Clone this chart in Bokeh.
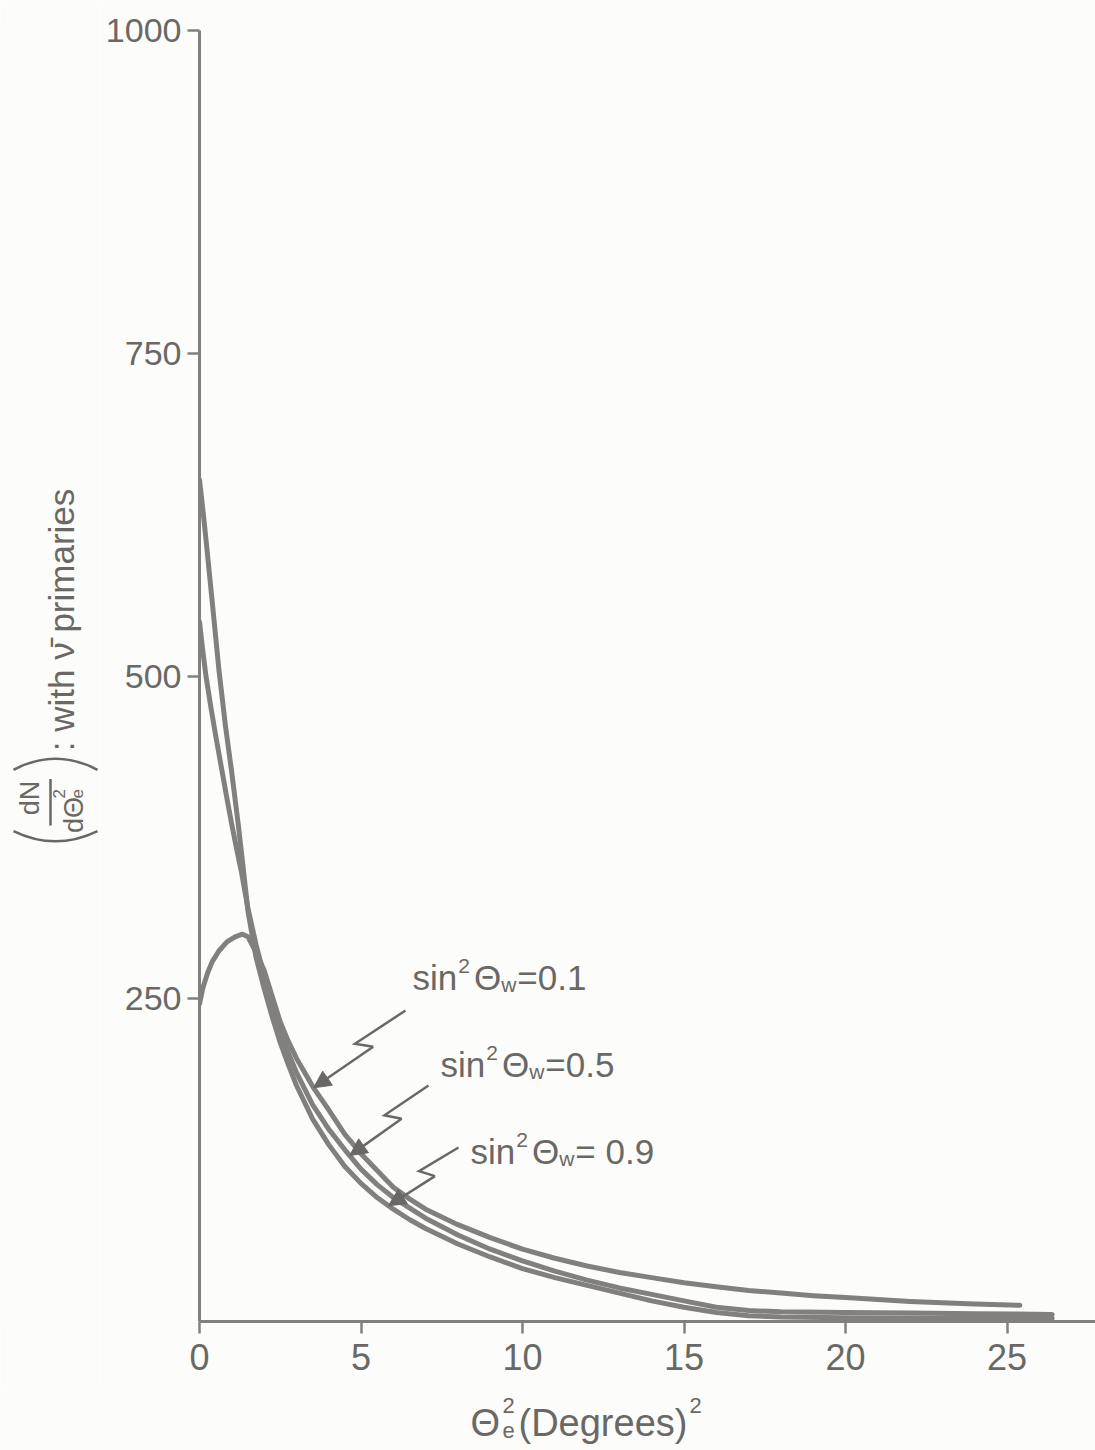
import numpy as np
from bokeh.plotting import figure
from bokeh.layouts import row, column
from bokeh.models import Range1d, FixedTicker, Label, Arrow, NormalHead
from bokeh.embed import file_html
from bokeh.resources import INLINE

# dN/dθe² for ν̄ primaries, one curve per value of sin²θW
theta2_w09 = [0, 0.1, 0.2, 0.4, 0.6, 0.8, 1.0, 1.2, 1.35, 1.5, 1.75, 2.0, 2.25, 2.5, 2.75,
              3.0, 3.5, 4.0, 4.5, 5.0, 5.5, 6.0, 6.5, 7.0, 8.0, 9.0, 10.0, 11.0, 12.0,
              13.0, 14.0, 15.0, 16.0, 17.0, 18.0, 20.0, 22.0, 24.0, 26.4]
dn_w09 = [652, 630, 606, 556, 505, 462, 425, 385, 352, 318, 282, 258, 236, 216, 199,
          183, 157, 137, 120, 107, 96, 87, 79, 72, 60, 50, 41, 34, 28,
          22, 16, 11, 7, 4.5, 3.5, 3, 2.8, 2.6, 2.5]

theta2_w05 = [0, 0.1, 0.2, 0.35, 0.5, 0.7, 0.85, 1.0, 1.15, 1.3, 1.5, 1.75, 2.0, 2.25, 2.5,
              2.75, 3.0, 3.5, 4.0, 4.5, 5.0, 5.5, 6.0, 6.5, 7.0, 8.0, 9.0, 10.0, 11.0,
              12.0, 13.0, 14.0, 15.0, 16.0, 17.0, 18.0, 20.0, 22.0, 24.0, 26.4]
dn_w05 = [542, 520, 500, 476, 454, 426, 405, 385, 366, 348, 320, 292, 268, 246, 226,
          208, 193, 168, 149, 133, 118, 106, 96, 88, 80, 67, 56, 47, 39,
          32, 26, 21, 16, 11, 8.5, 7.5, 7, 6.5, 6, 5.5]

theta2_w01 = [0, 0.1, 0.25, 0.4, 0.6, 0.85, 1.1, 1.33, 1.5, 1.75, 2.0, 2.25, 2.5, 2.75,
              3.0, 3.53, 4.0, 4.5, 5.0, 5.5, 6.0, 6.5, 7.0, 8.0, 9.0, 10.0, 11.0, 12.0,
              13.0, 14.0, 15.0, 16.0, 17.0, 18.0, 19.0, 20.0, 21.0, 22.0, 23.0, 24.0, 25.4]
dn_w01 = [246, 258, 270, 279, 287, 294, 298, 300, 298, 286, 272, 252, 232, 217,
          204, 181, 164, 145, 130, 117, 104, 95, 87, 75, 65, 56, 49, 43,
          38, 34, 30, 27, 24, 22, 20, 18.5, 17, 15.5, 14.5, 13.5, 12.5]

x_ticks = [0, 5, 10, 15, 20, 25]
y_ticks = [250, 500, 750, 1000]
curve_tags = ["0.1", "0.5", "0.9"]

PAPER = "#fcfcfa"
INK = "#82807c"
TEXT = "#6a6865"
FONT = "Liberation Sans"

W, H = 1095, 1450
LEFT_W = 100              # strip that carries the rotated y title
BOTTOM_H = 60             # strip that carries the x title
TOP_H = H - BOTTOM_H
X0_PX, Y0_PX = 199, 1321  # page position of the origin
TOP_PX = 30
X_MAX = (W - X0_PX) / 32.3
Y_MAX = 1000
LABEL_LIFT = 12           # Label anchors sit a little below the glyph baseline

SX = (W - X0_PX) / X_MAX
SY = (Y0_PX - TOP_PX) / Y_MAX


def dx(px):
    return (px - X0_PX) / SX


def dy(py):
    return (Y0_PX - py) / SY


ADV = {'s': .5, 'i': .222, 'n': .556, '.': .278, '=': .584, ' ': .278, 'Θ': .778,
       'w': .722, 'e': .556, '(': .333, ')': .333, 'D': .722, 'g': .556, 'r': .333,
       'd': .556, 'N': .722}
for ch in "0123456789":
    ADV[ch] = .556


def text_width(t, size):
    return sum(ADV.get(c, .556) for c in t) * size


def strip(width, height):
    f = figure(width=width, height=height,
               x_range=Range1d(0, width), y_range=Range1d(0, height),
               output_backend="svg", toolbar_location=None,
               x_axis_location=None, y_axis_location=None,
               min_border=0, background_fill_color=PAPER, border_fill_color=PAPER,
               outline_line_color=None)
    f.grid.visible = False
    return f


p = figure(width=W - LEFT_W, height=TOP_H,
           x_range=Range1d(0, X_MAX), y_range=Range1d(0, Y_MAX),
           output_backend="svg", toolbar_location=None,
           min_border_left=X0_PX - LEFT_W, min_border_right=0,
           min_border_top=TOP_PX, min_border_bottom=TOP_H - Y0_PX,
           background_fill_color=PAPER, border_fill_color=PAPER,
           outline_line_color=None)
p.grid.visible = False

p.xaxis.ticker = FixedTicker(ticks=x_ticks)
p.yaxis.ticker = FixedTicker(ticks=y_ticks)
for ax in (p.xaxis[0], p.yaxis[0]):
    ax.axis_line_color = INK
    ax.axis_line_width = 3
    ax.major_tick_line_color = INK
    ax.major_tick_line_width = 2.5
    ax.major_tick_out = 12
    ax.major_tick_in = 0
    ax.minor_tick_line_color = None
    ax.major_label_text_font = FONT
    ax.major_label_text_color = TEXT
p.xaxis.major_label_text_font_size = "36px"
p.yaxis.major_label_text_font_size = "34px"
p.xaxis.major_label_standoff = 10
p.yaxis.major_label_standoff = 6

series = {"0.1": (theta2_w01, dn_w01),
          "0.5": (theta2_w05, dn_w05),
          "0.9": (theta2_w09, dn_w09)}
for tag in curve_tags:
    xs, ys = series[tag]
    p.line(xs, ys, line_color=INK, line_width=5, line_join="round", line_cap="round")


def compose(plot, x_px, base_py, pieces, fx=dx, fy=dy, color=TEXT):
    """Lay out a run of text pieces: (text, size, rise, gap_after)."""
    cur = x_px
    for t, size, rise, gap in pieces:
        plot.add_layout(Label(x=fx(cur), y=fy(base_py - rise - LABEL_LIFT), text=t,
                              text_font=FONT, text_font_size=f"{size}px",
                              text_color=color, text_align="left",
                              text_baseline="alphabetic"))
        cur += text_width(t, size) + gap


# curve annotations with lightning-style pointers
notes = [
    # tag, label x, baseline, pointer start (px), pointer target x (data), value text
    ("0.1", 412, 989, (405, 1010), 3.53, "=0.1"),
    ("0.5", 440, 1076, (428, 1085), 4.65, "=0.5"),
    ("0.9", 470, 1163, (458, 1147), 5.85, " = 0.9"),
]
for tag, lx, lb, start, xt, tail in notes:
    compose(p, lx, lb, [("sin", 35, 0, 1), ("2", 21, 12, 4), ("Θ", 35, 0, 0),
                        ("w", 21, -7, 1), (tail, 35, 0, 0)])
    xs, ys = series[tag]
    tip_x = xt
    tip_y = float(np.interp(xt, xs, ys))
    sx, sy = start
    tx, ty = X0_PX + tip_x * SX, Y0_PX - tip_y * SY
    L = np.hypot(tx - sx, ty - sy)
    ux, uy = (tx - sx) / L, (ty - sy) / L
    nx, ny = -uy, ux
    p1 = (sx + 0.50 * L * ux + 7 * nx, sy + 0.50 * L * uy + 7 * ny)
    p2 = (sx + 0.40 * L * ux - 7 * nx, sy + 0.40 * L * uy - 7 * ny)
    p.line([dx(sx), dx(p1[0]), dx(p2[0])], [dy(sy), dy(p1[1]), dy(p2[1])],
           line_color=TEXT, line_width=2.5, line_join="miter")
    p.add_layout(Arrow(x_start=dx(p2[0]), y_start=dy(p2[1]), x_end=tip_x, y_end=tip_y,
                       line_color=TEXT, line_width=2.5,
                       end=NormalHead(size=17, fill_color=TEXT, line_color=TEXT)))

# x title strip: θe² (Degrees)²
bf = strip(W, BOTTOM_H)


def bx(px):
    return px


def by(py):
    return H - py


compose(bf, 470, 1434, [("Θ", 38, 0, 2)], bx, by)
compose(bf, 502, 1434, [("2", 22, 17, 0)], bx, by)
compose(bf, 502, 1434, [("e", 22, -8, 0)], bx, by)
compose(bf, 518, 1434, [("(Degrees)", 38, 0, 2), ("2", 22, 17, 0)], bx, by)

# rotated y title strip
lf = strip(LEFT_W, TOP_H)
SHIFT = -14


def vlabel(x, py, t, size):
    lf.add_layout(Label(x=x + SHIFT, y=TOP_H - py, text=t, angle=np.pi / 2,
                        text_font=FONT, text_font_size=f"{size}px", text_color=TEXT,
                        text_align="left", text_baseline="alphabetic"))


vlabel(43, 845, "dN", 27)
vlabel(87, 864, "dΘ", 27)
vlabel(72, 827, "2", 17)
vlabel(90, 827, "e", 17)
vlabel(75, 776, ": with ν\u0304 primaries", 35)
lf.segment(x0=[50], y0=[TOP_H - 806], x1=[50], y1=[TOP_H - 856],
           line_color=TEXT, line_width=2.5)
lf.quadratic(x0=[13], y0=[TOP_H - 862], x1=[97], y1=[TOP_H - 862], cx=[55], cy=[TOP_H - 884],
             line_color=TEXT, line_width=2.5)
lf.quadratic(x0=[13], y0=[TOP_H - 796], x1=[97], y1=[TOP_H - 796], cx=[55], cy=[TOP_H - 772],
             line_color=TEXT, line_width=2.5)

layout = column(row(lf, p), bf)
open("out.html", "w").write(file_html(layout, INLINE))
